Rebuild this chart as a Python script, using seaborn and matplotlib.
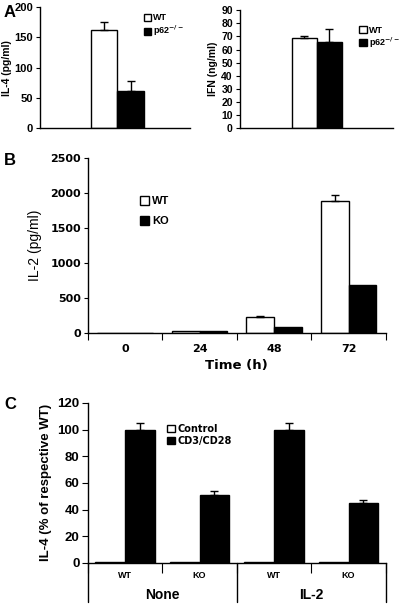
import matplotlib
matplotlib.use("Agg")
import matplotlib.pyplot as plt
import numpy as np
import pandas as pd
import seaborn as sns

sns.set_style("ticks")
plt.rcParams['font.family'] = ['Liberation Sans', 'DejaVu Sans']
plt.rcParams['font.weight'] = 'bold'
plt.rcParams['axes.labelweight'] = 'bold'
plt.rcParams['axes.linewidth'] = 1.0
plt.rcParams['text.color'] = 'black'
plt.rcParams['axes.labelcolor'] = 'black'
plt.rcParams['xtick.color'] = 'black'
plt.rcParams['ytick.color'] = 'black'
plt.rcParams['axes.edgecolor'] = 'black'

# Panel A: IL-4 and IFN, WT vs p62-/-
a_groups = ["WT", "p62$^{-/-}$"]
a_il4 = [162, 61]
a_il4_err = [14, 17]
a_ifn = [69, 66]
a_ifn_err = [1, 10]

# Panel B: IL-2 time course
b_times = ["0", "24", "48", "72"]
b_wt = [0, 30, 220, 1880]
b_wt_err = [0, 0, 15, 90]
b_ko = [0, 20, 85, 680]
b_ko_err = [0, 0, 0, 0]

# Panel C: IL-4 as % of respective WT
c_cats = ["None WT", "None KO", "IL-2 WT", "IL-2 KO"]
c_ticklabels = ["WT", "KO", "WT", "KO"]
c_groups = ["None", "IL-2"]
c_control = [0.5, 0.5, 0.5, 0.5]
c_cd3 = [100, 51, 100, 45]
c_cd3_err = [5, 3, 5, 2]

fig = plt.figure(figsize=(4.01, 6.04), dpi=100)
axA1 = fig.add_axes([0.0998, 0.788, 0.374, 0.200])
axA2 = fig.add_axes([0.598, 0.788, 0.382, 0.195])
axB = fig.add_axes([0.219, 0.449, 0.743, 0.290])
axC = fig.add_axes([0.219, 0.068, 0.743, 0.265])


def bars(ax, cats, series, names, colors, errs, width):
    rows = []
    for name, vals in zip(names, series):
        for c, v in zip(cats, vals):
            rows.append({"cat": c, "grp": name, "val": v})
    df = pd.DataFrame(rows)
    sns.barplot(data=df, x="cat", y="val", hue="grp", hue_order=names,
                order=cats, palette=dict(zip(names, colors)), edgecolor="black",
                linewidth=1.0, errorbar=None, width=width, gap=0, ax=ax)
    for cont, err in zip(ax.containers, errs):
        xs = [p.get_x() + p.get_width() / 2 for p in cont.patches]
        hs = [p.get_height() for p in cont.patches]
        e = np.array(err, dtype=float)
        m = e > 0
        ax.errorbar(np.array(xs)[m], np.array(hs)[m], yerr=[np.zeros(m.sum()), e[m]],
                    fmt="none", ecolor="black", elinewidth=1.0, capsize=3, capthick=1.0)
    sns.despine(ax=ax)
    ax.set_xlabel("")


def leg(ax, fontsize, family=None, spacing=0.35, **kw):
    h, l = ax.get_legend_handles_labels()
    prop = {"size": fontsize, "weight": "bold"}
    if family:
        prop["family"] = family
    ax.legend(h, l, frameon=False, handlelength=0.8, handleheight=0.8,
              handletextpad=0.3, borderpad=0, borderaxespad=0,
              labelspacing=spacing, prop=prop, **kw)


# ---- A left
bars(axA1, ["s"], [[a_il4[0]], [a_il4[1]]], a_groups, ["white", "black"],
     [[a_il4_err[0]], [a_il4_err[1]]], 0.8)
axA1.set_xlim(-1.17, 1.10)
axA1.set_ylim(0, 200)
axA1.set_yticks([0, 50, 100, 150, 200])
axA1.set_xticks([])
axA1.set_ylabel("IL-4 (pg/ml)", fontsize=7.5, labelpad=2)
axA1.tick_params(axis="y", labelsize=8, length=3, pad=2)
leg(axA1, 6.5, spacing=0.2, loc="upper left", bbox_to_anchor=(0.69, 0.95))

# ---- A right
bars(axA2, ["s"], [[a_ifn[0]], [a_ifn[1]]], a_groups, ["white", "black"],
     [[a_ifn_err[0]], [a_ifn_err[1]]], 0.8)
axA2.set_xlim(-1.23, 1.22)
axA2.set_ylim(0, 90)
axA2.set_yticks(range(0, 91, 10))
axA2.set_xticks([])
axA2.set_ylabel("IFN (ng/ml)", fontsize=7.5, labelpad=2)
axA2.tick_params(axis="y", labelsize=7.5, length=3, pad=2)
leg(axA2, 6.5, spacing=0.1, loc="upper left", bbox_to_anchor=(0.78, 0.87))

# ---- B
bars(axB, b_times, [b_wt, b_ko], ["WT", "KO"], ["white", "black"],
     [b_wt_err, b_ko_err], 0.75)
axB.set_xlim(-0.5, 3.5)
axB.set_ylim(0, 2500)
axB.set_yticks(range(0, 2501, 500))
axB.set_yticklabels([str(v) for v in range(0, 2501, 500)], family="DejaVu Sans",
                    fontweight="bold", fontsize=8)
axB.set_xticks(np.arange(-0.5, 4, 1.0))
axB.set_xticklabels([])
axB.set_xticks(range(4), minor=True)
axB.set_xticklabels(b_times, minor=True, family="DejaVu Sans", fontweight="bold")
axB.tick_params(axis="x", which="major", length=5, direction="out")
axB.tick_params(axis="x", which="minor", length=0, pad=8, labelsize=8)
axB.tick_params(axis="y", length=3, pad=2)
axB.set_ylabel("IL-2 (pg/ml)", fontsize=10, fontweight="normal", labelpad=6)
axB.set_xlabel("Time (h)", fontsize=9.5, family="DejaVu Sans", labelpad=4)
leg(axB, 8, spacing=0.9, loc="upper left", bbox_to_anchor=(0.175, 0.78))

# ---- C
bars(axC, c_cats, [c_control, c_cd3], ["Control", "CD3/CD28"], ["white", "black"],
     [[0, 0, 0, 0], c_cd3_err], 0.8)
axC.set_xlim(-0.5, 3.5)
axC.set_ylim(0, 120)
axC.set_yticks(range(0, 121, 20))
axC.set_xticks(np.arange(-0.5, 4, 1.0))
axC.set_xticklabels([])
axC.set_xticks(range(4), minor=True)
axC.set_xticklabels(c_ticklabels, minor=True)
axC.tick_params(axis="x", which="major", length=7, direction="out")
axC.tick_params(axis="x", which="minor", length=0, pad=6, labelsize=6.5)
axC.tick_params(axis="y", labelsize=9.5, length=4, pad=2)
axC.set_ylabel("IL-4 (% of respective WT)", fontsize=9.5, labelpad=4)
trans = axC.get_xaxis_transform()
for xb in [-0.5, 1.5, 3.5]:
    axC.plot([xb, xb], [0, -0.245], color="black", lw=1.0, transform=trans, clip_on=False)
for i, g in enumerate(c_groups):
    axC.text(2 * i + 0.5, -0.2, g, transform=trans, ha="center", va="center",
             fontsize=10, fontweight="bold")
leg(axC, 7, family="DejaVu Sans", spacing=0.25, loc="upper left",
    bbox_to_anchor=(0.265, 0.87))

fig.text(0.01, 0.98, "A", fontsize=12, fontweight="bold", va="center")
fig.text(0.01, 0.735, "B", fontsize=12, fontweight="bold", va="center")
fig.text(0.01, 0.33, "C", fontsize=12, fontweight="bold", va="center")

fig.savefig("out.png", dpi=100)
